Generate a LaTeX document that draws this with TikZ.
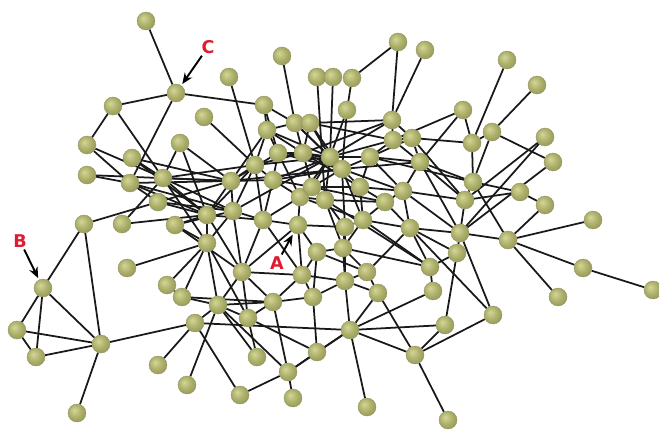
\documentclass[tikz,border=0pt]{standalone}
\usepackage{fontspec}
\setsansfont{DejaVu Sans}
\usetikzlibrary{arrows.meta, backgrounds}
\definecolor{knoblite}{RGB}{212,214,150}
\definecolor{knobmid}{RGB}{172,175,106}
\definecolor{knobdark}{RGB}{128,130,72}
\definecolor{tagred}{RGB}{222,28,48}
\pgfdeclareradialshading{knob}{\pgfqpoint{-8bp}{8bp}}{color(0bp)=(knoblite); color(18bp)=(knobmid); color(44bp)=(knobdark); color(60bp)=(knobdark)}

\begin{document}
\begin{tikzpicture}[x=0.02cm, y=-0.02cm,
    knob/.style={circle, shading=knob, draw=knobdark!90, line width=0.2pt, minimum size=0.36cm, inner sep=0pt},
    link/.style={line width=1pt, black!90},
    tag/.style={text=tagred, font=\sffamily\bfseries\fontsize{10}{11}\selectfont, inner sep=1pt},
    pointer/.style={-{Stealth[length=2.2mm, width=1.8mm]}, line width=1.1pt, shorten >=1pt}]
  \useasboundingbox (0,0) rectangle (659,433);

  % the balls
  \foreach \n/\x/\y in {1/146/21, 2/176/93, 3/113/106, 4/229/77, 5/264/105, 6/204/117, 7/282/56,
      8/87/145, 9/132/158, 10/180/143, 11/87/175, 12/130/183, 13/163/178, 14/231/181, 15/158/202,
      16/207/215, 17/233/211, 18/84/224, 19/122/224, 20/175/225, 21/207/243, 22/127/268, 23/43/288,
      24/17/330, 25/36/357, 26/101/344, 27/77/413, 28/167/285, 29/182/297, 30/242/272, 31/218/305,
      32/195/323, 33/248/318, 34/158/365, 35/187/385, 36/240/395, 37/257/357, 38/273/302, 39/302/275,
      40/313/297, 41/317/352, 42/288/372, 43/293/398, 44/345/281, 45/350/330, 46/378/293, 47/433/291,
      48/445/325, 49/493/315, 50/415/355, 51/367/407, 52/448/420, 53/263/220, 54/298/225, 55/317/252,
      56/300/197, 57/325/200, 58/312/187, 59/273/180, 60/255/165, 61/278/153, 62/303/153, 63/330/157,
      64/342/169, 65/267/130, 66/295/123, 67/310/123, 68/317/77, 69/333/77, 70/352/78, 71/347/110,
      72/360/187, 73/370/157, 74/385/202, 75/363/220, 76/345/227, 77/343/248, 78/367/272, 79/398/42,
      80/425/50, 81/392/120, 82/393/140, 83/412/138, 84/420/162, 85/403/191, 86/410/228, 87/430/267,
      88/457/253, 89/460/233, 90/465/200, 91/473/182, 92/472/143, 93/492/132, 94/463/110, 95/507/60,
      96/537/85, 97/545/137, 98/553/162, 99/520/192, 100/545/205, 101/508/240, 102/593/220,
      103/583/268, 104/653/290, 105/558/297}
    \node[knob] (n\n) at (\x,\y) {};

  % the links, under the balls
  \begin{pgfonlayer}{background}
    \foreach \a/\b in {1/2, 2/3, 2/5, 2/12, 3/8, 3/13, 4/60, 6/60, 8/12, 8/13, 9/13, 9/14, 9/16,
        10/13, 10/14, 10/16, 11/12, 11/14, 12/15, 12/16, 12/17, 13/14, 13/16, 13/17, 13/21, 14/17,
        14/16, 15/16, 15/17, 15/18, 16/19, 13/19, 16/20, 17/20, 20/21, 21/22, 18/23, 18/26, 23/24,
        23/25, 23/26, 24/25, 24/26, 25/26, 26/27, 26/32, 13/60, 14/15, 20/30, 12/14, 16/60}
      \draw[link] (n\a) -- (n\b);
    \foreach \a/\b in {5/65, 5/66, 5/61, 60/65, 61/65, 65/66, 14/65, 66/67, 62/66, 63/66, 63/67,
        62/67, 64/67, 67/81, 61/62, 59/61, 61/63, 14/61, 56/61, 62/63, 58/62, 62/64, 62/72, 59/60,
        14/60, 17/60, 53/60, 58/59, 56/59, 53/59, 14/59, 59/64, 58/63, 57/58, 58/64, 58/72, 56/57,
        54/56, 53/56, 57/63, 57/76, 57/77, 57/74, 63/64, 63/73, 63/81, 63/82, 63/71, 64/71, 64/72,
        64/73, 64/75, 64/76, 64/85, 64/84, 72/73, 72/74, 72/75, 73/82, 73/84, 73/85, 73/91, 74/85,
        74/75, 74/86, 75/76, 75/77, 75/87, 76/77, 54/76, 77/78, 55/77, 44/77, 55/78, 44/78, 78/86,
        46/78, 54/55, 53/54, 39/54, 39/55, 40/55, 17/53, 30/53, 16/53, 39/53, 57/87, 56/75, 58/74,
        72/85, 73/83, 62/81, 67/82, 75/86, 77/87, 61/64, 60/63, 65/63, 59/63, 66/64, 56/63, 17/63,
        14/64, 60/62, 65/62}
      \draw[link] (n\a) -- (n\b);
    \foreach \a/\b in {7/66, 57/68, 63/69, 70/71, 70/79, 79/81, 80/81, 81/82, 81/83, 82/83, 82/84,
        83/84, 83/92, 83/90, 84/85, 84/91, 84/90, 84/89, 85/86, 85/90, 85/89, 86/87, 86/89, 86/88,
        87/88, 47/87, 88/89, 48/88, 89/90, 89/101, 89/97, 89/98, 49/89, 90/91, 90/97, 90/99, 91/92,
        91/93, 91/101, 91/99, 92/93, 92/94, 92/95, 93/96, 93/98, 82/94, 84/94, 99/100, 100/101,
        101/102, 101/103, 101/105, 103/104}
      \draw[link] (n\a) -- (n\b);
    \foreach \a/\b in {16/21, 17/21, 21/28, 21/29, 21/31, 21/33, 16/30, 17/30, 30/31, 30/33, 30/38,
        30/39, 30/54, 28/29, 29/31, 29/38, 31/32, 31/33, 31/35, 31/37, 31/38, 31/42, 32/34, 32/36,
        32/45, 33/37, 33/41, 33/38, 38/39, 38/42, 38/40, 39/40, 39/44, 40/44, 41/42, 41/45, 40/41,
        42/43, 36/42, 42/45, 44/45, 44/46, 45/46, 45/47, 45/48, 45/50, 45/51, 46/50, 48/50, 49/50,
        49/86, 50/52, 44/76}
      \draw[link] (n\a) -- (n\b);
  \end{pgfonlayer}

  % marked balls
  \node[tag] (tagC) at (208,47) {C};
  \node[tag] (tagB) at (20,241) {B};
  \node[tag] (tagA) at (277,263) {A};
  \draw[pointer] (tagC) -- (n2);
  \draw[pointer] (tagB) -- (n23);
  \draw[pointer] (tagA) -- (n54);
\end{tikzpicture}
\end{document}
